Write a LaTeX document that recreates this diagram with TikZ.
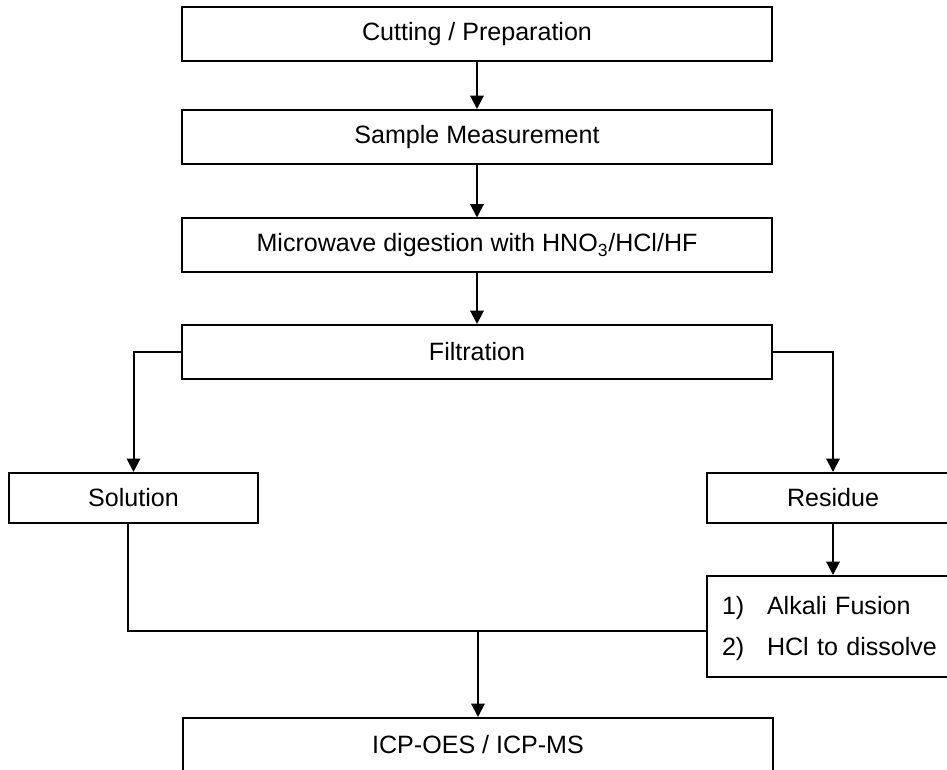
\documentclass[tikz,border=0pt]{standalone}
\usepackage{fontspec}
\setmainfont{Liberation Sans}
\usetikzlibrary{arrows.meta}

\begin{document}
\begin{tikzpicture}[x=0.75pt,y=-0.75pt,
  box/.style={draw,line width=1.5pt,inner sep=0pt,minimum height=40.5pt,
    font=\fontsize{18.8}{31}\selectfont},
  widebox/.style={box,minimum width=442.5pt},
  arr/.style={line width=1.5pt,-{Triangle[length=10pt,width=10pt]}},
  joinline/.style={line width=1.5pt}]
\useasboundingbox (0,0) rectangle (947,770);
% main column
\node[widebox] (cut) at (477,34) {Cutting / Preparation};
\node[widebox] (sample) at (477,137) {Sample Measurement};
\node[widebox] (micro) at (477,245.5) {Microwave digestion with HNO\textsubscript{3}/HCl/HF};
\node[widebox] (filt) at (477,352) {Filtration};
% branches
\node[box,minimum width=186.75pt,minimum height=37.5pt] (sol) at (133.5,498) {Solution};
\node[box,minimum width=189pt,minimum height=37.5pt] (res) at (833,498) {Residue};
\node[box,minimum height=75.75pt,text width=166.5pt,inner xsep=11.25pt,align=left] (alk) at (833,626.5)
  {\begin{tabular}{@{}p{33.75pt}@{}l@{}}1) & Alkali Fusion\\ 2) & HCl to dissolve\end{tabular}};
\node[widebox] (icp) at (478,745) {ICP-OES / ICP-MS};
% connectors
\draw[arr] (cut) -- (sample);
\draw[arr] (sample) -- (micro);
\draw[arr] (micro) -- (filt);
\draw[arr] (filt.west) -| (sol.north);
\draw[arr] (filt.east) -| (res.north);
\draw[arr] (res) -- (alk);
\coordinate (meet) at ([yshift=-3pt]alk.west);
\draw[joinline] ([xshift=-4.5pt]sol.south) |- (meet);
\draw[arr] (icp.north |- meet) -- (icp.north);
\end{tikzpicture}
\end{document}
